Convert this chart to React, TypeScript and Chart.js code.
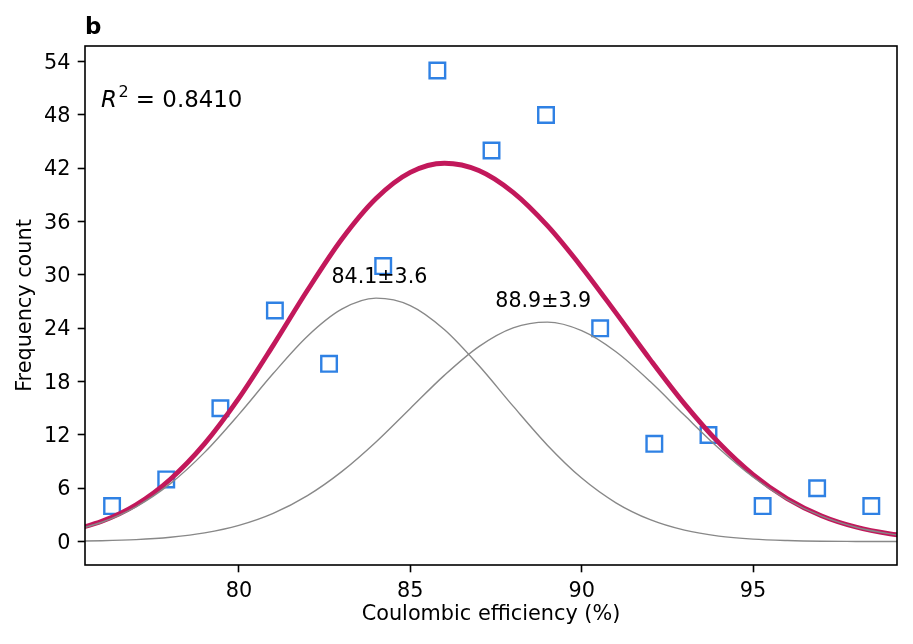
import { useEffect, useRef } from "react";
import { Chart, registerables } from "chart.js";

Chart.register(...registerables);

// Histogram bins (bin centres) and frequency counts
const binCenters = [76.3, 77.88, 79.46, 81.05, 82.63, 84.21, 85.79, 87.37, 88.96, 90.54, 92.12, 93.7, 95.28, 96.87, 98.45];
const counts = [4, 7, 15, 26, 20, 31, 53, 44, 48, 24, 11, 12, 4, 6, 4];

const curveX = [75, 76, 77, 78, 79, 80, 81, 82, 83, 84, 85, 86, 87, 88, 89, 90, 91, 92, 93, 94, 95, 96, 97, 98, 99, 100];
const fitTotal = [1.16, 2.28, 4.15, 7.02, 11.02, 16.14, 22.08, 28.28, 34.02, 38.6, 41.54, 42.57, 41.75, 39.29, 35.54, 30.88, 25.73, 20.48, 15.5, 11.13, 7.55, 4.83, 2.9, 1.64, 0.88, 0.43];
const peak1 = [1.12, 2.18, 3.92, 6.52, 10.04, 14.32, 18.91, 23.11, 26.15, 27.39, 26.56, 23.84, 19.81, 15.24, 10.85, 7.15, 4.37, 2.47, 1.29, 0.62, 0.28, 0.12, 0.04, 0.02, 0.01, 0.0];
const peak2 = [0.04, 0.1, 0.23, 0.5, 0.98, 1.82, 3.17, 5.17, 7.87, 11.21, 14.98, 18.73, 21.94, 24.05, 24.69, 23.73, 21.36, 18.01, 14.21, 10.51, 7.27, 4.71, 2.86, 1.62, 0.87, 0.43];

// Peak annotations
const peakLabels = ["84.1±3.6", "88.9±3.9"];
const peakLabelX = [84.1, 88.88];
const peakLabelY = [27.4, 24.7];

const rSquared = "0.8410";
const panelLabel = "b";
const xTitle = "Coulombic efficiency (%)";
const yTitle = "Frequency count";
const xTicks = [80, 85, 90, 95];
const yTicks = [0, 6, 12, 18, 24, 30, 36, 42, 48, 54];

const FONT = '"DejaVu Sans", sans-serif';

const decor = {
  id: "decor",
  afterDraw(chart: any) {
    const { ctx, chartArea: a, scales } = chart;
    const x = scales.x;
    const y = scales.y;
    ctx.save();
    // frame
    ctx.strokeStyle = "#000";
    ctx.lineWidth = 1.6;
    ctx.strokeRect(a.left, a.top, a.right - a.left, a.bottom - a.top);

    ctx.fillStyle = "#000";
    // peak annotations
    ctx.font = `20.6px ${FONT}`;
    ctx.textAlign = "center";
    ctx.textBaseline = "alphabetic";
    peakLabels.forEach((t, i) => {
      ctx.fillText(t, x.getPixelForValue(peakLabelX[i]), y.getPixelForValue(peakLabelY[i] + 1.7));
    });

    // R^2 text
    ctx.textAlign = "left";
    let px = a.left + 16;
    const py = a.top + 61;
    ctx.font = `italic 22.9px ${FONT}`;
    ctx.fillText("R", px, py);
    px += ctx.measureText("R").width + 1.5;
    ctx.font = `16px ${FONT}`;
    ctx.fillText("2", px, py - 10.5);
    px += ctx.measureText("2").width;
    ctx.font = `22.9px ${FONT}`;
    ctx.fillText(" = " + rSquared, px, py);

    // panel label
    ctx.font = `bold 22.9px ${FONT}`;
    ctx.fillText(panelLabel, a.left, 34);

    // axis titles
    ctx.font = `20.8px ${FONT}`;
    ctx.textAlign = "center";
    ctx.fillText(xTitle, (a.left + a.right) / 2, 620);
    ctx.translate(31, (a.top + a.bottom) / 2);
    ctx.rotate(-Math.PI / 2);
    ctx.fillText(yTitle, 0, 0);
    ctx.restore();
  },
};

export default function App() {
  const ref = useRef<HTMLCanvasElement | null>(null);
  useEffect(() => {
    document.body.style.margin = "0";
    const canvas = ref.current;
    if (!canvas) return;
    const line = (data: number[], color: string, width: number, order: number) => ({
      type: "line" as const,
      data: curveX.map((v, i) => ({ x: v, y: data[i] })),
      borderColor: color,
      borderWidth: width,
      pointRadius: 0,
      fill: false,
      cubicInterpolationMode: "monotone" as const,
      clip: 0,
      order,
    });
    const chart = new Chart(canvas, {
      type: "line",
      data: {
        datasets: [
          {
            type: "scatter",
            data: binCenters.map((v, i) => ({ x: v, y: counts[i] })),
            pointStyle: "rect",
            pointRadius: 11,
            pointBorderWidth: 2.4,
            pointBorderColor: "#2f81e4",
            pointBackgroundColor: "rgba(255,255,255,0)",
            showLine: false,
            order: 4,
          } as any,
          line(fitTotal, "#c2185b", 4.8, 3),
          line(peak1, "#888888", 1.4, 2),
          line(peak2, "#888888", 1.4, 1),
        ],
      },
      options: {
        responsive: false,
        animation: false,
        devicePixelRatio: 1,
        layout: { padding: { top: 46, right: 16, left: 0, bottom: 0 } },
        plugins: { legend: { display: false }, tooltip: { enabled: false } },
        scales: {
          x: {
            type: "linear",
            min: 75.51,
            max: 99.2,
            afterFit: (s: any) => {
              s.height = 79;
            },
            afterBuildTicks: (s: any) => {
              s.ticks = xTicks.map((v) => ({ value: v }));
            },
            grid: { drawOnChartArea: false, drawTicks: true, tickLength: 7.3, tickWidth: 1.6, tickColor: "#000" },
            border: { display: false },
            ticks: { font: { family: "DejaVu Sans", size: 20.8 }, color: "#000", padding: 7.2, maxRotation: 0 },
          },
          y: {
            type: "linear",
            min: -2.63,
            max: 55.76,
            afterFit: (s: any) => {
              s.width = 85;
            },
            afterBuildTicks: (s: any) => {
              s.ticks = yTicks.map((v) => ({ value: v }));
            },
            grid: { drawOnChartArea: false, drawTicks: true, tickLength: 7.3, tickWidth: 1.6, tickColor: "#000" },
            border: { display: false },
            ticks: { font: { family: "DejaVu Sans", size: 20.8 }, color: "#000", padding: 7.3, labelOffset: 1.5 },
          },
        },
      },
      plugins: [decor],
    });
    return () => chart.destroy();
  }, []);
  return (
    <div style={{ width: 913, height: 644, background: "#fff" }}>
      <canvas ref={ref} width={913} height={644} />
    </div>
  );
}
